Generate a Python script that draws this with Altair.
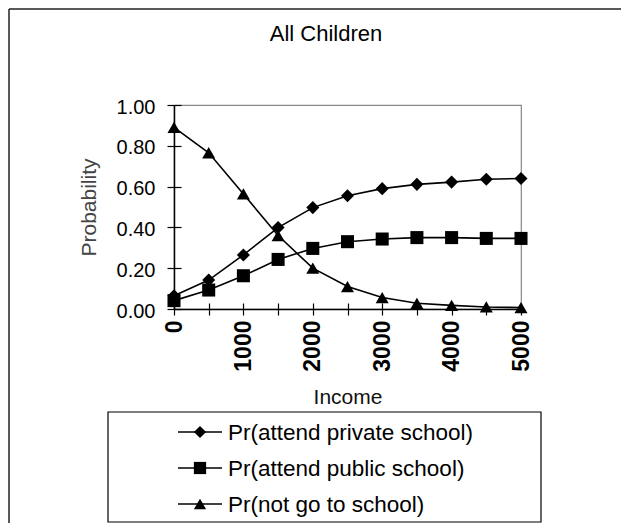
import altair as alt
import pandas as pd

# ---- data ----
income = [0, 500, 1000, 1500, 2000, 2500, 3000, 3500, 4000, 4500, 5000]
private = [0.065, 0.142, 0.265, 0.399, 0.497, 0.555, 0.590, 0.611, 0.622, 0.636, 0.640]
public = [0.041, 0.093, 0.163, 0.243, 0.297, 0.330, 0.343, 0.350, 0.350, 0.346, 0.346]
notgo = [0.890, 0.766, 0.564, 0.360, 0.200, 0.110, 0.056, 0.028, 0.018, 0.010, 0.007]

series_names = ["Pr(attend private school)", "Pr(attend public school)", "Pr(not go to school)"]
series_shapes = ["diamond", "square", "triangle-up"]
series_values = [private, public, notgo]

x_ticks = [0, 500, 1000, 1500, 2000, 2500, 3000, 3500, 4000, 4500, 5000]
y_ticks = [0.0, 0.2, 0.4, 0.6, 0.8, 1.0]
chart_title = "All Children"

rows = []
for name, vals in zip(series_names, series_values):
    for x, v in zip(income, vals):
        rows.append({"Income": x, "Probability": v, "series": name})
df = pd.DataFrame(rows)

FONT = "Liberation Sans"
W, H = 347, 204
one = pd.DataFrame({"a": [0]})

shape_scale = alt.Scale(domain=series_names, range=series_shapes)
xscale = alt.Scale(domain=[0, 5000], nice=False, zero=False)
yscale = alt.Scale(domain=[0, 1], nice=False)

main_x_axis = alt.Axis(
    values=x_ticks, format="d",
    labelExpr="datum.value % 1000 == 0 ? datum.label : ''",
    labelAngle=270, labelAlign="right", labelBaseline="middle",
    labelFontWeight="bold", labelFontSize=23, labelPadding=5, labelColor="black",
    labelFont=FONT, labelOverlap=False, labelFlush=False,
    tickSize=6, tickColor="black", tickWidth=1.2,
    domainColor="black", domainWidth=1.5, grid=False,
    title="Income", titleFont=FONT, titleFontSize=21, titleFontWeight="normal",
    titleColor="#111", titleX=W / 2, titleY=94, titleAlign="center",
    titleBaseline="alphabetic", titleAngle=0,
)
main_y_axis = alt.Axis(
    values=y_ticks, format=".2f",
    labelFontSize=20, labelFont=FONT, labelPadding=12, labelColor="black",
    labelBaseline="middle", labelOffset=2, labelOverlap=False, labelFlush=False,
    tickSize=7, tickColor="black", tickWidth=1.2,
    domainColor="black", domainWidth=1.5, grid=False,
    title="Probability", titleFont=FONT, titleFontSize=21, titleFontWeight="normal",
    titleColor="#444", titleAngle=270, titleX=-79, titleY=H / 2,
    titleAlign="center", titleBaseline="alphabetic",
)
inner_x_axis = alt.Axis(
    values=x_ticks, labels=False, domain=False, grid=False, orient="bottom",
    tickSize=6, tickColor="black", tickWidth=1.2, offset=-6, title=None,
)
inner_y_axis = alt.Axis(
    values=y_ticks, labels=False, domain=False, grid=False, orient="left",
    tickSize=7, tickColor="black", tickWidth=1.2, offset=-7, title=None,
)

lines = alt.Chart(df).mark_line(color="black", strokeWidth=1.6).encode(
    x=alt.X("Income:Q", scale=xscale, axis=main_x_axis),
    y=alt.Y("Probability:Q", scale=yscale, axis=main_y_axis),
    detail="series:N",
)
points = alt.Chart(df).mark_point(filled=True, color="black", opacity=1, size=170).encode(
    x=alt.X("Income:Q", scale=xscale, axis=inner_x_axis),
    y=alt.Y("Probability:Q", scale=yscale, axis=inner_y_axis),
    shape=alt.Shape("series:N", scale=shape_scale, legend=None),
)

# ---- decorations: outer frame, title, legend box ----
frame_top = alt.Chart(one).mark_rule(color="#222", strokeWidth=1.5).encode(
    x=alt.value(-165), x2=alt.value(470), y=alt.value(-96)
)
frame_left = alt.Chart(one).mark_rule(color="#222", strokeWidth=1.5).encode(
    x=alt.value(-165), y=alt.value(-96), y2=alt.value(440)
)
title = alt.Chart(one).mark_text(
    font=FONT, fontSize=22, color="black", align="center", baseline="alphabetic"
).encode(x=alt.value(152), y=alt.value(-64), text=alt.value(chart_title))

legend_box = alt.Chart(one).mark_rect(
    fill="white", fillOpacity=0, stroke="black", strokeWidth=1.2
).encode(x=alt.value(-66), x2=alt.value(367), y=alt.value(307), y2=alt.value(417))

legend_layers = []
legend_rows_y = [327, 363, 399]
leg_df = pd.DataFrame({"series": series_names})
for name, shp, yy in zip(series_names, series_shapes, legend_rows_y):
    d = leg_df[leg_df["series"] == name]
    legend_layers.append(
        alt.Chart(d).mark_rule(color="black", strokeWidth=1.6).encode(
            x=alt.value(4), x2=alt.value(48), y=alt.value(yy)
        )
    )
    legend_layers.append(
        alt.Chart(d).mark_point(filled=True, color="black", opacity=1, size=150, shape=shp).encode(
            x=alt.value(26), y=alt.value(yy)
        )
    )
    legend_layers.append(
        alt.Chart(d).mark_text(
            font=FONT, fontSize=22.5, color="black", align="left", baseline="middle", dy=1
        ).encode(x=alt.value(54), y=alt.value(yy), text="series:N")
    )

chart = alt.layer(
    frame_top, frame_left, title, legend_box, lines, points, *legend_layers
).resolve_axis(x="independent", y="independent").properties(
    width=W, height=H,
    autosize=alt.AutoSizeParams(type="none"),
    padding={"left": 166, "top": 97, "right": 100, "bottom": 214},
    background="white",
).configure_view(stroke="#888", strokeWidth=1.2, fill="white")

chart.save("out.html", embed_options={"renderer": "svg", "actions": False})
